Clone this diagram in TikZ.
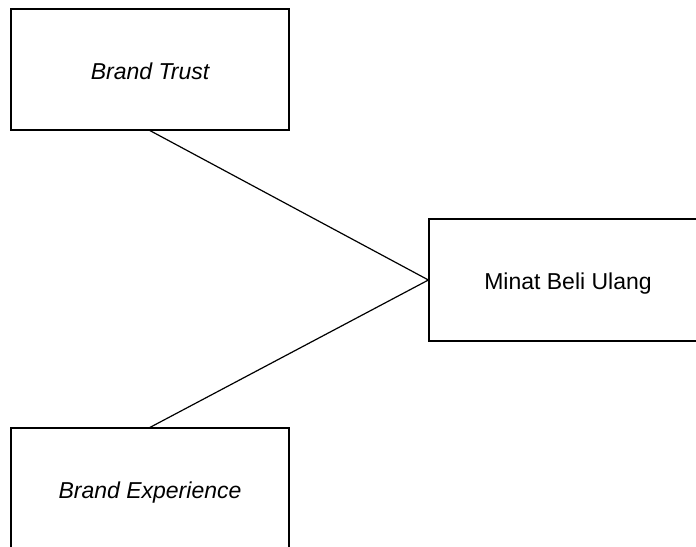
\documentclass[tikz,border=0pt]{standalone}
\usepackage{fontspec}
\setmainfont{Liberation Sans}
\begin{document}
\begin{tikzpicture}[x=1bp,y=-1bp,
  varbox/.style={draw, line width=1.2bp, minimum width=278bp, minimum height=121bp,
    inner sep=0pt, text height=19.5bp, text depth=0pt,
    font=\fontsize{23bp}{27bp}\selectfont},
  link/.style={draw, line width=1.2bp}]
\useasboundingbox (0,0) rectangle (696,547);
\clip (0,0) rectangle (696,547);
% variables
\node[varbox] (trust) at (150,69.5) {\itshape Brand Trust};
\node[varbox] (exp) at (150,488.5) {\itshape Brand Experience};
\node[varbox, minimum height=122bp] (minat) at (568,280) {Minat Beli Ulang};
% relations
\draw[link] (trust.south) -- (minat.west);
\draw[link] (exp.north) -- (minat.west);
\end{tikzpicture}
\end{document}
